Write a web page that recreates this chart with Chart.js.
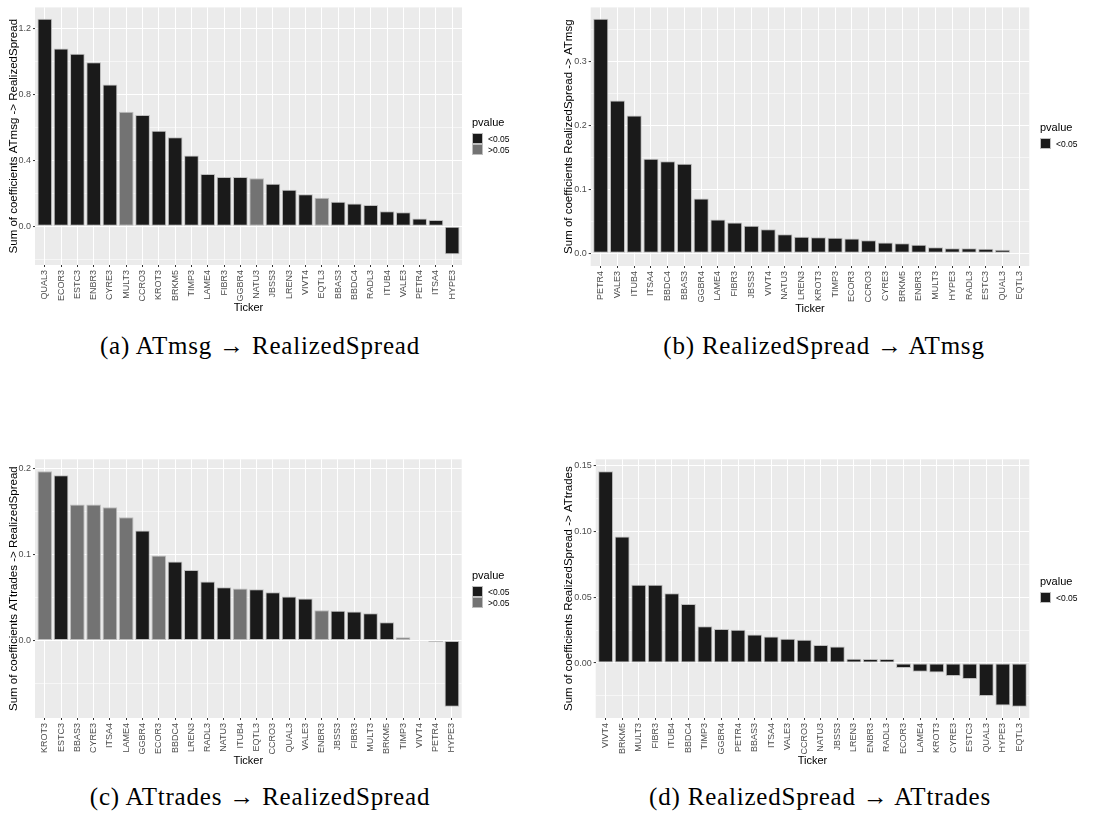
<!DOCTYPE html>
<html>
<head>
<meta charset="utf-8">
<script src="https://cdn.jsdelivr.net/npm/chart.js@4.4.1/dist/chart.umd.min.js"></script>
<style>
  body { margin: 0; background: #fff; width: 1105px; height: 814px; position: relative; overflow: hidden; }
  canvas { position: absolute; }
  .legend { position: absolute; font-family: "Liberation Sans", Arial, sans-serif; color: #000; }
  .legend .lt { font-size: 11px; line-height: 13px; margin-bottom: 4px; }
  .legend .row { display: flex; align-items: center; height: 11px; font-size: 8.5px; }
  .legend .key { width: 9px; height: 9px; border: 0.5px solid #BEBEBE; margin-right: 5px; }
  .caption { position: absolute; font-family: "Liberation Serif", "Times New Roman", serif; font-size: 25px; letter-spacing: 0.8px; white-space: nowrap; transform: translate(-50%, -50%); color: #000; }
</style>
</head>
<body>
<script>
// === Data ===

// (a) ATmsg -> RealizedSpread
const tickersA = ['QUAL3', 'ECOR3', 'ESTC3', 'ENBR3', 'CYRE3', 'MULT3', 'CCRO3', 'KROT3', 'BRKM5', 'TIMP3', 'LAME4', 'FIBR3', 'GGBR4',
  'NATU3', 'JBSS3', 'LREN3', 'VIVT4', 'EQTL3', 'BBAS3', 'BBDC4', 'RADL3', 'ITUB4', 'VALE3', 'PETR4', 'ITSA4', 'HYPE3'];
const valuesA = [1.26, 1.079, 1.048, 0.996, 0.861, 0.695, 0.676, 0.58, 0.541, 0.43, 0.317, 0.30, 0.30,
  0.291, 0.258, 0.222, 0.194, 0.173, 0.149, 0.139, 0.129, 0.091, 0.085, 0.048, 0.038, -0.17];
const pvalA = ['<0.05', '<0.05', '<0.05', '<0.05', '<0.05', '>0.05', '<0.05', '<0.05', '<0.05', '<0.05', '<0.05', '<0.05', '<0.05',
  '>0.05', '<0.05', '<0.05', '<0.05', '>0.05', '<0.05', '<0.05', '<0.05', '<0.05', '<0.05', '<0.05', '<0.05', '<0.05'];

// (b) RealizedSpread -> ATmsg
const tickersB = ['PETR4', 'VALE3', 'ITUB4', 'ITSA4', 'BBDC4', 'BBAS3', 'GGBR4', 'LAME4', 'FIBR3', 'JBSS3', 'VIVT4', 'NATU3', 'LREN3',
  'KROT3', 'TIMP3', 'ECOR3', 'CCRO3', 'CYRE3', 'BRKM5', 'ENBR3', 'MULT3', 'HYPE3', 'RADL3', 'ESTC3', 'QUAL3', 'EQTL3'];
const valuesB = [0.3667, 0.239, 0.2156, 0.148, 0.144, 0.140, 0.0859, 0.0527, 0.048, 0.043, 0.0375, 0.030, 0.026,
  0.025, 0.0245, 0.023, 0.0203, 0.017, 0.0156, 0.0135, 0.0094, 0.0078, 0.0078, 0.0073, 0.0057, -0.001];
const pvalB = tickersB.map(() => '<0.05');

// (c) ATtrades -> RealizedSpread
const tickersC = ['KROT3', 'ESTC3', 'BBAS3', 'CYRE3', 'ITSA4', 'LAME4', 'GGBR4', 'ECOR3', 'BBDC4', 'LREN3', 'RADL3', 'NATU3', 'ITUB4',
  'EQTL3', 'CCRO3', 'QUAL3', 'VALE3', 'ENBR3', 'JBSS3', 'FIBR3', 'MULT3', 'BRKM5', 'TIMP3', 'VIVT4', 'PETR4', 'HYPE3'];
const valuesC = [0.1965, 0.1919, 0.158, 0.158, 0.1547, 0.143, 0.1277, 0.0986, 0.0917, 0.082, 0.0685, 0.0619, 0.0603,
  0.0596, 0.0561, 0.051, 0.0487, 0.0352, 0.0344, 0.0337, 0.0317, 0.0213, 0.0039, -0.0008, -0.002, -0.077];
const pvalC = ['>0.05', '<0.05', '>0.05', '>0.05', '>0.05', '>0.05', '<0.05', '>0.05', '<0.05', '<0.05', '<0.05', '<0.05', '>0.05',
  '<0.05', '<0.05', '<0.05', '<0.05', '>0.05', '<0.05', '<0.05', '<0.05', '<0.05', '>0.05', '<0.05', '<0.05', '<0.05'];

// (d) RealizedSpread -> ATtrades
const tickersD = ['VIVT4', 'BRKM5', 'MULT3', 'FIBR3', 'ITUB4', 'BBDC4', 'TIMP3', 'GGBR4', 'PETR4', 'BBAS3', 'ITSA4', 'VALE3', 'CCRO3',
  'NATU3', 'JBSS3', 'LREN3', 'ENBR3', 'RADL3', 'ECOR3', 'LAME4', 'KROT3', 'CYRE3', 'ESTC3', 'QUAL3', 'HYPE3', 'EQTL3'];
const valuesD = [0.1455, 0.096, 0.0593, 0.0593, 0.053, 0.0447, 0.0278, 0.0258, 0.0253, 0.0217, 0.0202, 0.0184, 0.0177,
  0.0136, 0.0126, 0.0033, 0.003, 0.003, -0.0038, -0.0066, -0.0071, -0.0098, -0.0121, -0.025, -0.0323, -0.0331];
const pvalD = tickersD.map(() => '<0.05');

// === Styling / layout ===

const fills = { '<0.05': '#1A1A1A', '>0.05': '#737373' };
const FONT = '"Liberation Sans", Arial, sans-serif';

const panels = [
  { labels: tickersA, values: valuesA, pval: pvalA, groups: ['<0.05', '>0.05'],
    yTitle: 'Sum of coefficients ATmsg -> RealizedSpread', yMin: -0.235, yMax: 1.329, step: 0.2, major: 0.4, dec: 1,
    box: { left: 0, top: 0, width: 560 }, plot: { l: 35, t: 7, r: 462, b: 265 }, yTitleX: 14,
    legend: { x: 472, y: 116 }, caption: { x: 260, y: 346, text: '(a) ATmsg \u2192 RealizedSpread' } },
  { labels: tickersB, values: valuesB, pval: pvalB, groups: ['<0.05'],
    yTitle: 'Sum of coefficients RealizedSpread -> ATmsg', yMin: -0.0198, yMax: 0.3844, step: 0.05, major: 0.1, dec: 1,
    box: { left: 560, top: 0, width: 545 }, plot: { l: 590.7, t: 6.7, r: 1029.3, b: 265.7 }, yTitleX: 9,
    legend: { x: 1040, y: 121 }, caption: { x: 824, y: 346, text: '(b) RealizedSpread \u2192 ATmsg' } },
  { labels: tickersC, values: valuesC, pval: pvalC, groups: ['<0.05', '>0.05'],
    yTitle: 'Sum of coefficients ATtrades -> RealizedSpread', yMin: -0.090, yMax: 0.2104, step: 0.05, major: 0.1, dec: 1,
    box: { left: 0, top: 450, width: 560 }, plot: { l: 35, t: 459.3, r: 461.7, b: 718.3 }, yTitleX: 14,
    legend: { x: 472, y: 569 }, caption: { x: 260, y: 797, text: '(c) ATtrades \u2192 RealizedSpread' } },
  { labels: tickersD, values: valuesD, pval: pvalD, groups: ['<0.05'],
    yTitle: 'Sum of coefficients RealizedSpread -> ATtrades', yMin: -0.0417, yMax: 0.1545, step: 0.025, major: 0.05, dec: 2,
    box: { left: 560, top: 450, width: 545 }, plot: { l: 595.7, t: 459.3, r: 1029.3, b: 718.3 }, yTitleX: 9,
    legend: { x: 1040, y: 575 }, caption: { x: 820, y: 797, text: '(d) RealizedSpread \u2192 ATtrades' } },
];

const X_AXIS_H = 55;

// grey panel background behind the grid
const panelBg = {
  id: 'panelBg',
  beforeDraw(chart) {
    const { ctx, chartArea: a } = chart;
    ctx.save();
    ctx.fillStyle = '#EBEBEB';
    ctx.fillRect(a.left, a.top, a.right - a.left, a.bottom - a.top);
    ctx.restore();
  },
};

function isMajor(v, major) {
  const r = v / major;
  return Math.abs(r - Math.round(r)) < 1e-6;
}

function renderPanel(p) {
  const height = Math.round(p.plot.b + X_AXIS_H - p.box.top);
  const canvas = document.createElement('canvas');
  canvas.width = p.box.width;
  canvas.height = height;
  canvas.style.left = p.box.left + 'px';
  canvas.style.top = p.box.top + 'px';
  document.body.appendChild(canvas);

  const yAxisW = p.plot.l - p.box.left;
  const n = p.labels.length;

  new Chart(canvas, {
    type: 'bar',
    data: {
      labels: p.labels,
      datasets: [{
        data: p.values,
        backgroundColor: p.pval.map(g => fills[g]),
        borderColor: '#BEBEBE',
        borderWidth: 1,
        borderSkipped: false,
        categoryPercentage: 0.9,
        barPercentage: 1,
      }],
    },
    options: {
      responsive: false,
      animation: false,
      events: [],
      layout: { padding: { left: 0, bottom: 0, top: p.plot.t - p.box.top, right: p.box.left + p.box.width - p.plot.r } },
      plugins: { legend: { display: false }, tooltip: { enabled: false } },
      scales: {
        x: {
          offset: true,
          // ggplot discrete expansion: 0.6 units on each side
          afterBuildTicks: s => { s._startValue = -0.6; s._valueRange = n + 0.2; },
          afterFit: s => { s.height = X_AXIS_H; },
          border: { display: false },
          grid: { offset: false, color: '#FFFFFF', lineWidth: 1, tickColor: '#333333', tickLength: 2, tickWidth: 1 },
          ticks: { autoSkip: false, minRotation: 90, maxRotation: 90, padding: 3, color: '#4D4D4D', font: { family: FONT, size: 9 } },
          title: { display: true, text: 'Ticker', color: '#000', font: { family: FONT, size: 11 }, padding: { top: 0, bottom: 5.4 } },
        },
        y: {
          min: p.yMin,
          max: p.yMax,
          afterFit: s => { s.width = yAxisW; },
          border: { display: false },
          grid: {
            color: '#FFFFFF',
            lineWidth: c => (c.tick && isMajor(c.tick.value, p.major) ? 1.1 : 0.55),
            tickColor: c => (c.tick && isMajor(c.tick.value, p.major) ? '#333333' : 'rgba(0,0,0,0)'),
            tickLength: 2,
            tickWidth: 1,
          },
          ticks: {
            stepSize: p.step,
            includeBounds: false,
            padding: 2,
            color: '#4D4D4D',
            font: { family: FONT, size: 9 },
            callback: v => (isMajor(v, p.major) ? (Math.abs(v) < 1e-9 ? 0 : v).toFixed(p.dec) : ''),
          },
          title: { display: true, text: p.yTitle, color: '#000', font: { family: FONT, size: 11.5 }, padding: { top: p.yTitleX - 6.9, bottom: 0 } },
        },
      },
    },
    plugins: [panelBg],
  });

  // legend
  const lg = document.createElement('div');
  lg.className = 'legend';
  lg.style.left = p.legend.x + 'px';
  lg.style.top = p.legend.y + 'px';
  let html = '<div class="lt">pvalue</div>';
  p.groups.forEach(g => {
    html += `<div class="row"><span class="key" style="background:${fills[g]}"></span><span>${g.replace('<', '&lt;').replace('>', '&gt;')}</span></div>`;
  });
  lg.innerHTML = html;
  document.body.appendChild(lg);

  // caption
  const cap = document.createElement('div');
  cap.className = 'caption';
  cap.style.left = p.caption.x + 'px';
  cap.style.top = p.caption.y + 'px';
  cap.textContent = p.caption.text;
  document.body.appendChild(cap);
}

panels.forEach(renderPanel);
</script>
</body>
</html>
